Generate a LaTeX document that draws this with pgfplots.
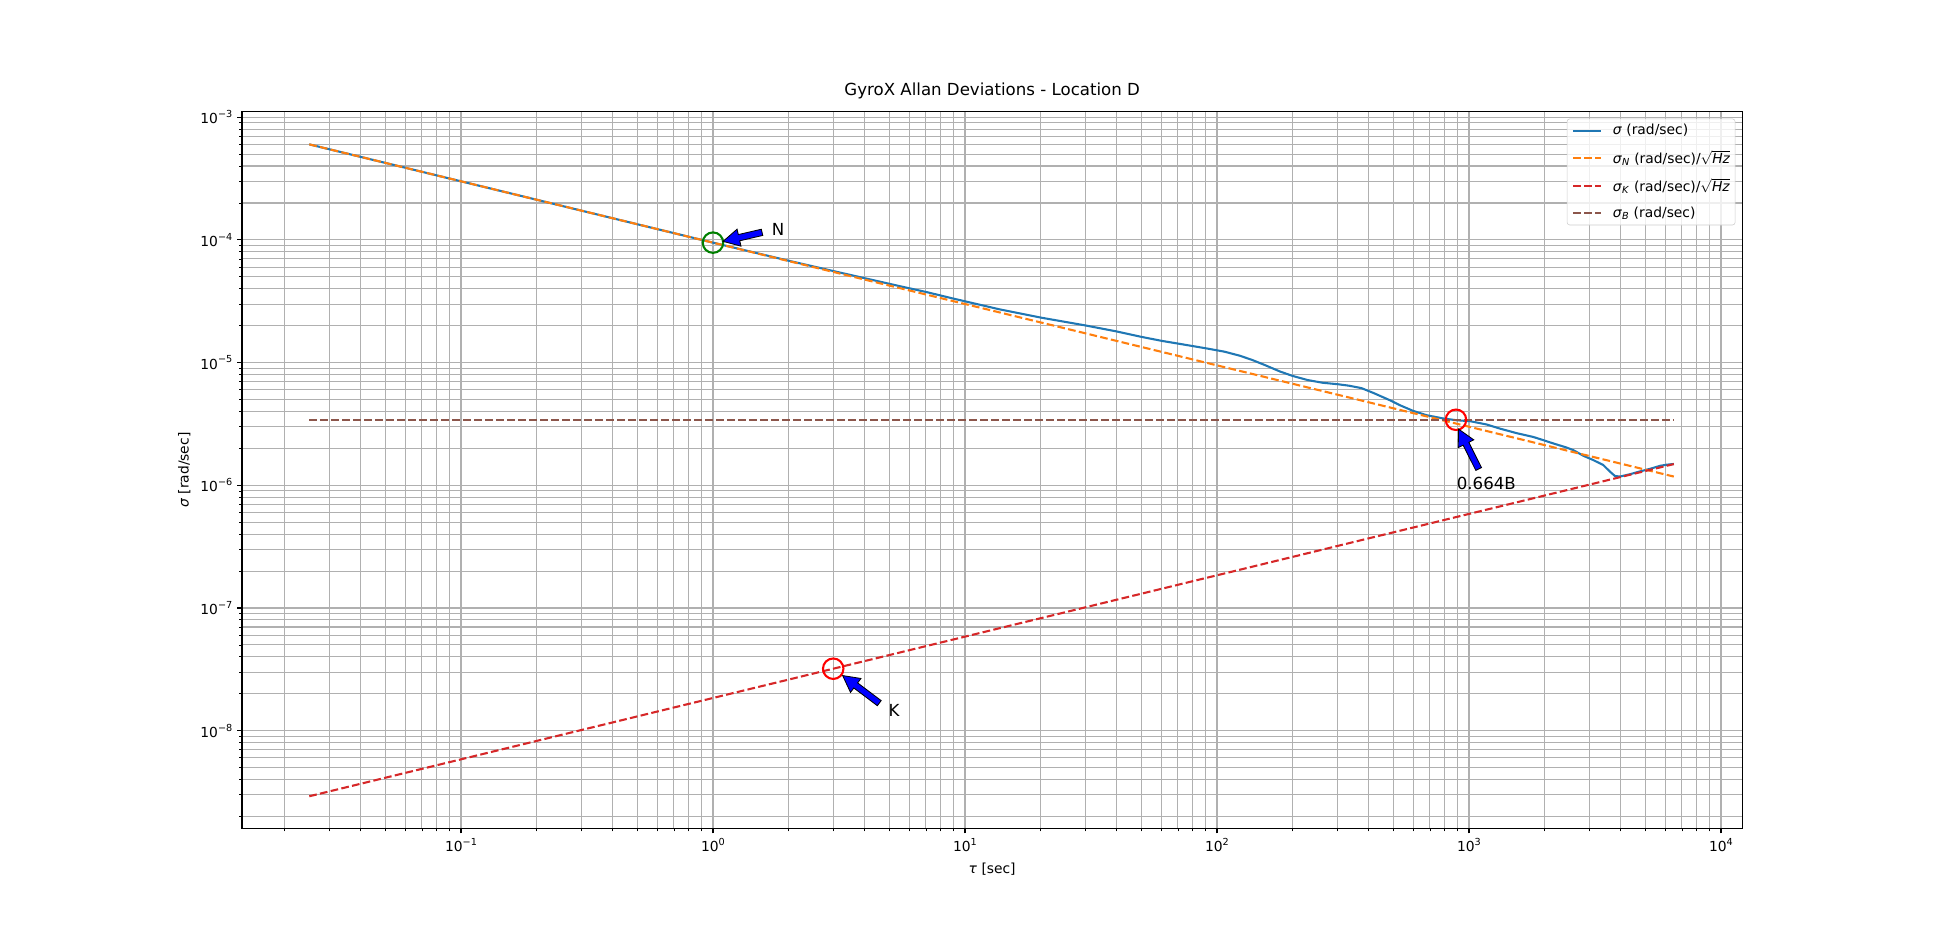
\documentclass[border=0pt]{standalone}
\usepackage{fontspec}
\setmainfont{DejaVu Sans}[ItalicFont={DejaVu Sans Oblique},BoldFont={DejaVu Sans Bold},BoldItalicFont={DejaVu Sans Bold Oblique}]
\usepackage{pgfplots}
\usepackage{pgfplotstable}
\pgfplotsset{compat=1.18}
\usetikzlibrary{calc,shapes.arrows}

\definecolor{c0}{HTML}{1F77B4}
\definecolor{c1}{HTML}{FF7F0E}
\definecolor{c3}{HTML}{D62728}
\definecolor{c5}{HTML}{8C564B}
\definecolor{gridc}{HTML}{B0B0B0}
\definecolor{mplgreen}{HTML}{008000}
\definecolor{mplred}{HTML}{FF0000}
\definecolor{mplblue}{HTML}{0000FF}
\definecolor{legedge}{HTML}{CCCCCC}

\newcommand{\tenpow}[1]{10\raisebox{0.45em}{\fontsize{7}{7}\selectfont #1}}
\newcommand{\sqHz}{$\sqrt{\mbox{\textit{Hz}}}$}
\newcommand{\sig}[1]{\textit{σ}\textsubscript{\textit{#1}}}

\newcommand{\mplarrow}[2]{%
  \path let \p1=(#1), \p2=(#2),
    \n1={atan2(\y2-\y1,\x2-\x1)}, \n2={veclen(\x2-\x1,\y2-\y1)} in
    node[single arrow, draw=black, fill=mplblue, line width=0.6pt, inner sep=0pt,
      text height=2pt, text depth=2pt, text width=0pt,
      minimum height=\n2, minimum width=0pt, single arrow head extend=4pt,
      single arrow tip angle=56, rotate=\n1, anchor=center]
      at ({0.5*(\x1+\x2)},{0.5*(\y1+\y2)}) {};}

\pgfplotstableread{
tau sigma
0.025 6.008e-4
0.1 3.004e-4
0.3162 1.689e-4
1 9.5e-5
1.995 6.77e-5
3.162 5.44e-5
5.508 4.199e-5
7.031 3.759e-5
8.954 3.332e-5
10.12 3.142e-5
13.74 2.715e-5
20.09 2.323e-5
29.85 2.014e-5
39.81 1.798e-5
50.12 1.621e-5
60.67 1.501e-5
73.28 1.407e-5
90.36 1.308e-5
107.2 1.227e-5
123.0 1.139e-5
138.0 1.051e-5
156.3 9.477e-6
177.8 8.465e-6
199.5 7.792e-6
229.1 7.206e-6
263.0 6.850e-6
302.0 6.663e-6
333.4 6.489e-6
374.1 6.197e-6
418.8 5.645e-6
487.5 4.916e-6
532.1 4.494e-6
601.2 4.037e-6
679.2 3.727e-6
790.7 3.505e-6
893.1 3.390e-6
1009 3.332e-6
1175 3.131e-6
1327 2.898e-6
1545 2.662e-6
1799 2.478e-6
1972 2.334e-6
2158 2.196e-6
2438 2.033e-6
2594 1.935e-6
2844 1.740e-6
3112 1.607e-6
3412 1.463e-6
3622 1.295e-6
3793 1.192e-6
3972 1.178e-6
4355 1.231e-6
4764 1.297e-6
5224 1.361e-6
5728 1.441e-6
6081 1.471e-6
6501 1.493e-6
}\bluedata

\pgfplotstableread{
tau sigma
0.025 6.008e-4
6501 1.178e-6
}\ndata

\pgfplotstableread{
tau sigma
0.025 2.921e-9
6501 1.4896e-6
}\kdata

\pgfplotstableread{
tau sigma
0.025 3.42e-6
6501 3.42e-6
}\bdata

\begin{document}
\begin{tikzpicture}
\path[use as bounding box] (0,0) rectangle (19.36in,9.31in);
\begin{axis}[
  at={(2.42in,1.024in)}, anchor=south west,
  scale only axis, width=15.004in, height=7.169in,
  xmode=log, ymode=log,
  xmin=0.01352, xmax=12160, ymin=1.592e-9, ymax=1.109e-3,
  xtick={0.1,1,10,100,1000,10000},
  xticklabels={{\tenpow{−1}},{\tenpow{0}},{\tenpow{1}},{\tenpow{2}},{\tenpow{3}},{\tenpow{4}}},
  minor xtick={0.02,0.03,0.04,0.05,0.06,0.07,0.08,0.09,0.2,0.3,0.4,0.5,0.6,0.7,0.8,0.9,2,3,4,5,6,7,8,9,20,30,40,50,60,70,80,90,200,300,400,500,600,700,800,900,2000,3000,4000,5000,6000,7000,8000,9000},
  ytick={1e-8,1e-7,1e-6,1e-5,1e-4,1e-3},
  yticklabels={{\tenpow{−8}},{\tenpow{−7}},{\tenpow{−6}},{\tenpow{−5}},{\tenpow{−4}},{\tenpow{−3}}},
  minor ytick={2e-9,3e-9,4e-9,5e-9,6e-9,7e-9,8e-9,9e-9,2e-8,3e-8,4e-8,5e-8,6e-8,7e-8,8e-8,9e-8,2e-7,3e-7,4e-7,5e-7,6e-7,7e-7,8e-7,9e-7,2e-6,3e-6,4e-6,5e-6,6e-6,7e-6,8e-6,9e-6,2e-5,3e-5,4e-5,5e-5,6e-5,7e-5,8e-5,9e-5,2e-4,3e-4,4e-4,5e-4,6e-4,7e-4,8e-4,9e-4},
  tick pos=left, tick align=outside,
  major tick length=3.5pt, minor tick length=2pt,
  major tick style={black, line width=0.8pt},
  minor tick style={black, line width=0.6pt},
  axis line style={line width=0.8pt},
  grid=both,
  major grid style={gridc, line width=0.8pt},
  minor grid style={gridc, line width=0.8pt},
  tick label style={font=\fontsize{10}{12}\selectfont},
  title={GyroX Allan Deviations - Location D},
  title style={at={(axis description cs:0.5,1)}, anchor=base, yshift=6pt, font=\fontsize{12}{14}\selectfont},
  xlabel={\textit{τ} [sec]},
  ylabel={\textit{σ} [rad/sec]},
  xlabel style={at={(axis description cs:0.5,0)}, anchor=center, yshift=-29pt, font=\fontsize{10}{12}\selectfont},
  ylabel style={at={(axis description cs:0,0.5)}, anchor=center, yshift=41.8pt, font=\fontsize{10}{12}\selectfont},
  legend style={at={(axis description cs:1,1)}, xshift=-5pt, yshift=-5pt, anchor=north east,
    draw=legedge, fill=white, fill opacity=0.8, draw opacity=1, text opacity=1,
    rounded corners=2pt, font=\fontsize{10}{12}\selectfont,
    inner xsep=3.6pt, inner ysep=4pt, row sep=9.5pt, column sep=8pt,
    nodes={inner sep=0pt}},
  legend cell align=left,
  legend image code/.code={\draw[#1] (0pt,0pt) -- (20pt,0pt);},
]
\addplot[c0, line width=1.5pt] table[x=tau,y=sigma] {\bluedata};
\addlegendentry{\textit{σ} (rad/sec)}
\addplot[c1, line width=1.5pt, dash pattern=on 5.55pt off 2.4pt] table[x=tau,y=sigma] {\ndata};
\addlegendentry{\sig{N} (rad/sec)/\sqHz}
\addplot[c3, line width=1.5pt, dash pattern=on 5.55pt off 2.4pt] table[x=tau,y=sigma] {\kdata};
\addlegendentry{\sig{K} (rad/sec)/\sqHz}
\addplot[c5, line width=1.5pt, dash pattern=on 5.55pt off 2.4pt] table[x=tau,y=sigma] {\bdata};
\addlegendentry{\sig{B} (rad/sec)}
\addplot[forget plot, only marks, mark=o, mark size=7.4pt, mplgreen, line width=1.5pt] coordinates {(1,9.5e-5)};
\addplot[forget plot, only marks, mark=o, mark size=7.4pt, mplred, line width=1.5pt] coordinates {(3,3.2e-8)};
\addplot[forget plot, only marks, mark=o, mark size=7.4pt, mplred, line width=1.5pt] coordinates {(888,3.42e-6)};
\coordinate (Ntip) at (axis cs:1.126,9.85e-5);
\coordinate (Ntail) at (axis cs:1.608,1.167e-4);
\coordinate (Ntext) at (axis cs:1.71,1.076e-4);
\coordinate (Ktip) at (axis cs:3.342,2.72e-8);
\coordinate (Ktail) at (axis cs:4.67,1.62e-8);
\coordinate (Ktext) at (axis cs:4.96,1.30e-8);
\coordinate (Btip) at (axis cs:921,2.73e-6);
\coordinate (Btail) at (axis cs:1106,1.291e-6);
\coordinate (Btext) at (axis cs:893,9.28e-7);
\end{axis}
\mplarrow{Ntail}{Ntip}
\mplarrow{Ktail}{Ktip}
\mplarrow{Btail}{Btip}
\node[anchor=base west, inner sep=0pt, font=\fontsize{12}{14}\selectfont] at (Ntext) {N};
\node[anchor=base west, inner sep=0pt, font=\fontsize{12}{14}\selectfont] at (Ktext) {K};
\node[anchor=base west, inner sep=0pt, font=\fontsize{12}{14}\selectfont] at (Btext) {0.664B};
\end{tikzpicture}
\end{document}
